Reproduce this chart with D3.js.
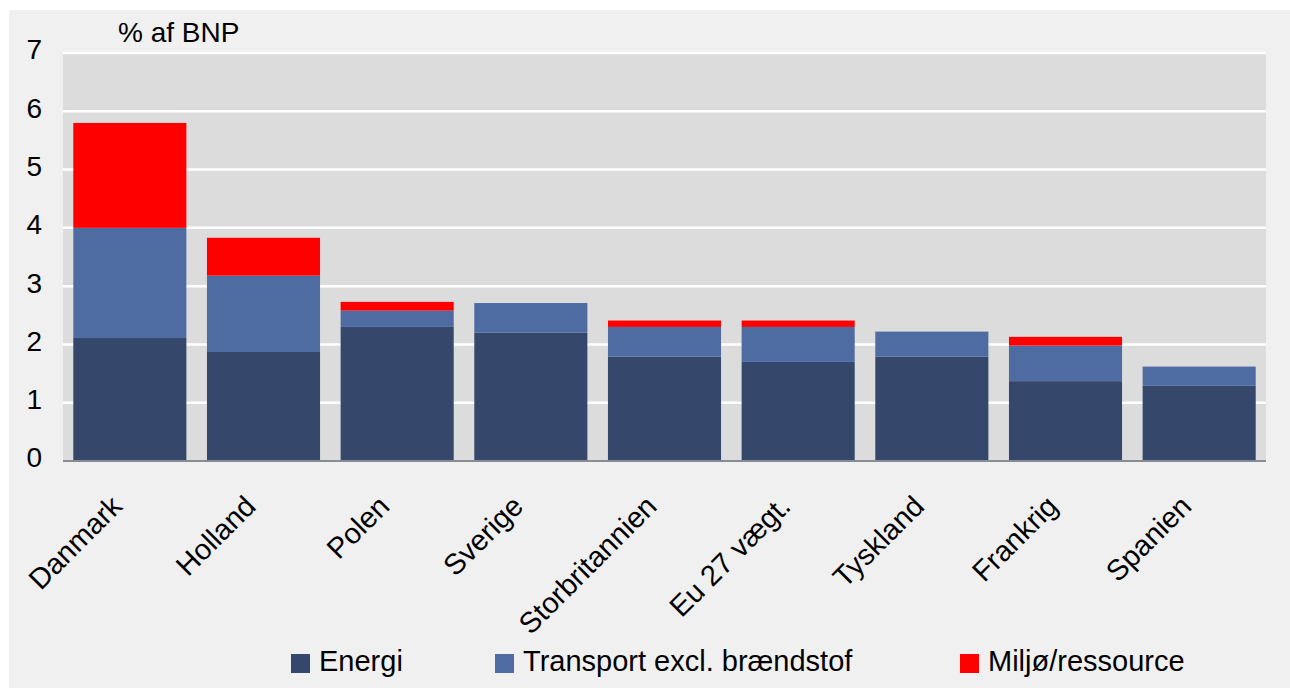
<!DOCTYPE html>
<html><head><meta charset="utf-8">
<script src="https://cdn.jsdelivr.net/npm/d3@7"></script>
<style>body{margin:0;background:#fff}svg{display:block;font-family:"Liberation Sans",Arial,sans-serif}</style>
</head><body>
<svg id="c" width="1290" height="688"></svg>
<script>
const categories = ["Danmark","Holland","Polen","Sverige","Storbritannien","Eu 27 vægt.","Tyskland","Frankrig","Spanien"];
const energi    = [2.11, 1.87, 2.30, 2.20, 1.79, 1.70, 1.79, 1.37, 1.29];
const transport = [1.89, 1.31, 0.28, 0.51, 0.51, 0.60, 0.43, 0.61, 0.33];
const miljo     = [1.80, 0.65, 0.15, 0.00, 0.11, 0.11, 0.00, 0.15, 0.00];
const seriesNames = ["Energi","Transport excl. brændstof","Miljø/ressource"];
const seriesColors = ["#35486b","#4e6ca2","#ff0000"];
const yTicks = [0,1,2,3,4,5,6,7];
const yLabel = "% af BNP";

const svg = d3.select("#c");
svg.append("rect").attr("x",9).attr("y",10).attr("width",1281).attr("height",678).attr("fill","#f0f0f0");

const L=63,R=1266,T=53,B=461;
const x = d3.scaleBand().domain(categories).range([L,R]).paddingInner(0.154).paddingOuter(0.077);
const y = d3.scaleLinear().domain([0,7]).range([B,T]);

svg.append("rect").attr("x",L).attr("y",T).attr("width",R-L).attr("height",B-T).attr("fill","#dcdcdc");

svg.append("g").selectAll("line").data(yTicks.filter(d=>d>0)).join("line")
  .attr("x1",L).attr("x2",R).attr("y1",d=>y(d)).attr("y2",d=>y(d))
  .attr("stroke","#ffffff").attr("stroke-width",2.5);

const rows = categories.map((c,i)=>({cat:c, Energi:energi[i], "Transport excl. brændstof":transport[i], "Miljø/ressource":miljo[i]}));
const stack = d3.stack().keys(seriesNames)(rows);
svg.append("g").selectAll("g").data(stack).join("g")
  .attr("fill",(d,i)=>seriesColors[i])
  .selectAll("rect").data(d=>d.filter(p=>p[1]-p[0]>0)).join("rect")
  .attr("x",d=>x(d.data.cat)).attr("width",x.bandwidth())
  .attr("y",d=>y(d[1])).attr("height",d=>y(d[0])-y(d[1]));

svg.append("line").attr("x1",L).attr("x2",R).attr("y1",B).attr("y2",B)
  .attr("stroke","#868b94").attr("stroke-width",2);

// y axis labels
const yAxis = d3.axisLeft(y).tickValues(yTicks).tickSize(0).tickPadding(0).tickFormat(d3.format("d"));
const ga = svg.append("g").attr("transform",`translate(42,-3)`).call(yAxis);
ga.select(".domain").remove();
ga.selectAll("text").attr("font-size",28).attr("fill","#000").attr("font-family","Liberation Sans, Arial, sans-serif");

svg.append("text").attr("x",118).attr("y",42).attr("font-size",28).text(yLabel);

// x labels
svg.append("g").selectAll("text").data(categories).join("text")
  .attr("transform",d=>`translate(${x(d)+x.bandwidth()/2-6},508) rotate(-45)`)
  .attr("text-anchor","end").attr("font-size",29).attr("fill","#000").text(d=>d);

// legend
const legX = [291,495,960];
const lg = svg.append("g").selectAll("g").data(seriesNames).join("g")
  .attr("transform",(d,i)=>`translate(${legX[i]},654)`);
lg.append("rect").attr("width",19).attr("height",19).attr("fill",(d,i)=>seriesColors[i]);
lg.append("text").attr("x",28).attr("y",17).attr("font-size",29).text(d=>d);
</script>
</body></html>
